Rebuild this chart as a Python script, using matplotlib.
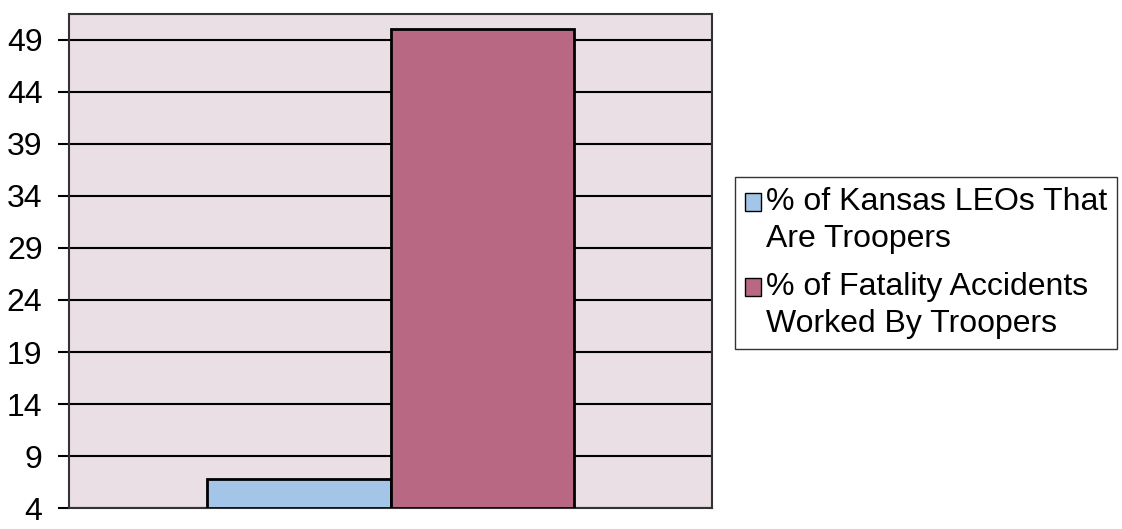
import matplotlib
matplotlib.use("Agg")
import matplotlib.pyplot as plt
from matplotlib.patches import Patch, Rectangle
from matplotlib.legend_handler import HandlerPatch

plt.rcParams['font.family'] = ['Liberation Sans', 'DejaVu Sans']

series_labels = ["% of Kansas LEOs That\nAre Troopers",
                 "% of Fatality Accidents\nWorked By Troopers"]
series_values = [6.8, 50.1]
series_colors = ["#a3c6e8", "#b86883"]
y_ticks = [4, 9, 14, 19, 24, 29, 34, 39, 44, 49]

fig = plt.figure(figsize=(11.22, 5.29), dpi=100)
ax = fig.add_axes([69/1122, 1-508/529, (712-69)/1122, (508-14)/529])
ax.set_facecolor("#e9dfe4")

width = 0.285
positions = [-width/2, width/2]
for p, v, c in zip(positions, series_values, series_colors):
    ax.bar(p, v - y_ticks[0], width=width, bottom=y_ticks[0], color=c,
           edgecolor="black", linewidth=2, zorder=3)

ax.set_xlim(-0.5, 0.5)
ax.set_ylim(4, 51.5)
ax.set_yticks(y_ticks)
ax.set_yticklabels([str(t) for t in y_ticks], fontsize=23)
ax.set_xticks([])
ax.yaxis.grid(True, color="black", linewidth=1.5, zorder=1)
ax.set_axisbelow(True)
ax.tick_params(axis='y', length=8, width=1.5, direction='out', pad=11, colors='black')
for s in ax.spines.values():
    s.set_color("#333333")
    s.set_linewidth(1.5)


def top_square(legend, orig_handle, xdescent, ydescent, width, height, fontsize):
    shift = 13.5
    return Rectangle((-xdescent, -ydescent + shift), width, height)


handles = [Patch(facecolor=c, edgecolor="black", linewidth=1) for c in series_colors]
leg = fig.legend(handles, series_labels, loc="upper left",
                 bbox_to_anchor=(735/1122, 1-177/529), fontsize=23,
                 frameon=True, fancybox=False, handlelength=0.5, handleheight=0.5,
                 handletextpad=0.15, borderpad=0.32, labelspacing=0.57, borderaxespad=0,
                 handler_map={Patch: HandlerPatch(patch_func=top_square)})
for t in leg.get_texts():
    t.set_linespacing(1.3)
leg.get_frame().set_edgecolor("black")
leg.get_frame().set_linewidth(1)

fig.savefig("out.png", dpi=100)
